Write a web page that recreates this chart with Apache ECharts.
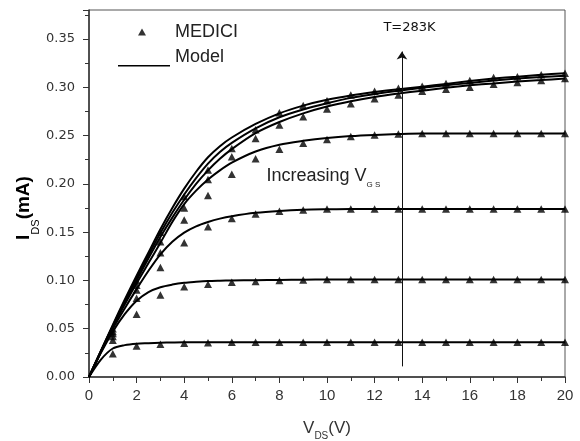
<!DOCTYPE html>
<html>
<head>
<meta charset="utf-8">
<script src="https://cdn.jsdelivr.net/npm/echarts@6/dist/echarts.min.js"></script>
<style>
  html, body { margin: 0; padding: 0; background: #fff; }
  #chart { width: 580px; height: 441px; }
</style>
</head>
<body>
<div id="chart"></div>
<script>
// Drain voltage grid of the model curves (V)
const vdsModel = [0, 0.5, 1, 1.5, 2, 2.5, 3, 3.5, 4, 4.5, 5, 5.5, 6, 7, 8, 9, 10, 11, 12, 13, 14, 15, 16, 17, 18, 19, 20];

// Model drain current (mA), one array per gate voltage, lowest V_GS first
const modelA = [0, 0.018, 0.0295, 0.033, 0.0345, 0.035, 0.0355, 0.0358, 0.036, 0.036, 0.036, 0.036, 0.036, 0.036, 0.036, 0.036, 0.036, 0.036, 0.036, 0.036, 0.036, 0.036, 0.036, 0.036, 0.036, 0.036, 0.036];
const modelB = [0, 0.025, 0.047, 0.065, 0.079, 0.088, 0.093, 0.0957, 0.0975, 0.0985, 0.0993, 0.0997, 0.1, 0.1003, 0.1005, 0.1008, 0.101, 0.101, 0.101, 0.101, 0.101, 0.101, 0.101, 0.101, 0.101, 0.101, 0.101];
const modelC = [0, 0.026, 0.05, 0.071, 0.091, 0.11, 0.127, 0.14, 0.1495, 0.156, 0.1605, 0.164, 0.1665, 0.17, 0.172, 0.1732, 0.1737, 0.174, 0.174, 0.174, 0.174, 0.174, 0.174, 0.174, 0.174, 0.174, 0.174];
const modelD = [0, 0.027, 0.052, 0.075, 0.097, 0.118, 0.139, 0.1605, 0.179, 0.193, 0.2045, 0.214, 0.222, 0.2335, 0.2405, 0.2445, 0.2475, 0.2495, 0.2507, 0.2515, 0.252, 0.252, 0.252, 0.252, 0.252, 0.252, 0.252];
const modelE = [0, 0.026, 0.052, 0.077, 0.1, 0.123, 0.145, 0.165, 0.1835, 0.2, 0.214, 0.226, 0.236, 0.2525, 0.264, 0.273, 0.28, 0.2855, 0.29, 0.2935, 0.2965, 0.2995, 0.302, 0.304, 0.306, 0.3075, 0.309];
const modelF = [0, 0.0265, 0.053, 0.0785, 0.1025, 0.126, 0.149, 0.17, 0.189, 0.206, 0.221, 0.233, 0.2425, 0.2575, 0.269, 0.277, 0.2835, 0.289, 0.293, 0.2965, 0.2995, 0.302, 0.3045, 0.307, 0.309, 0.3105, 0.312];
const modelG = [0, 0.027, 0.054, 0.08, 0.105, 0.129, 0.153, 0.175, 0.195, 0.2125, 0.2275, 0.239, 0.248, 0.262, 0.273, 0.281, 0.287, 0.2915, 0.295, 0.298, 0.3005, 0.3035, 0.3065, 0.309, 0.311, 0.313, 0.3145];

// MEDICI simulation points (V, mA)
const vdsSim = [1, 2, 3, 4, 5, 6, 7, 8, 9, 10, 11, 12, 13, 14, 15, 16, 17, 18, 19, 20];
const simA = [0.024, 0.032, 0.034, 0.035, 0.0355, 0.036, 0.036, 0.036, 0.036, 0.036, 0.036, 0.036, 0.036, 0.036, 0.036, 0.036, 0.036, 0.036, 0.036, 0.036];
const simB = [0.038, 0.065, 0.085, 0.0935, 0.096, 0.098, 0.099, 0.1, 0.1005, 0.101, 0.101, 0.101, 0.101, 0.101, 0.101, 0.101, 0.101, 0.101, 0.101, 0.101];
const simC = [0.042, 0.0815, 0.1135, 0.139, 0.1556, 0.164, 0.1687, 0.1715, 0.173, 0.174, 0.174, 0.174, 0.174, 0.174, 0.174, 0.174, 0.174, 0.174, 0.174, 0.174];
const simD = [0.045, 0.09, 0.1287, 0.1625, 0.188, 0.21, 0.226, 0.2357, 0.242, 0.246, 0.249, 0.2505, 0.2515, 0.252, 0.252, 0.252, 0.252, 0.252, 0.252, 0.252];
const simE = [0.047, 0.095, 0.14, 0.175, 0.2046, 0.228, 0.247, 0.261, 0.2695, 0.2775, 0.283, 0.288, 0.292, 0.296, 0.298, 0.3, 0.303, 0.305, 0.307, 0.309];
const simG = [0.05, 0.1, 0.15, 0.187, 0.2143, 0.2367, 0.256, 0.2735, 0.281, 0.286, 0.292, 0.296, 0.299, 0.301, 0.304, 0.307, 0.31, 0.311, 0.313, 0.3145];

// Arrow marking the direction of increasing gate voltage: [V_DS, I_start, I_end]
const arrowVds = 13.15;
const arrowFrom = 0.011;
const arrowTo = 0.337;

const modelCurves = [modelA, modelB, modelC, modelD, modelE, modelF, modelG];
const simCurves = [simA, simB, simC, simD, simE, simG];

const chart = echarts.init(document.getElementById('chart'), null, { renderer: 'canvas' });

const series = [];
modelCurves.forEach((curve, k) => {
  const s = {
    type: 'line',
    name: 'Model',
    data: vdsModel.map((v, i) => [v, curve[i]]),
    symbol: 'none',
    showSymbol: false,
    smooth: 0.3,
    clip: true,
    z: 2,
    silent: true,
    emphasis: { disabled: true },
    itemStyle: { color: '#000' },
    lineStyle: { color: '#000', width: 2 }
  };
  if (k === 0) {
    s.markLine = {
      silent: true,
      animation: false,
      symbol: ['none', 'arrow'],
      symbolSize: 8,
      label: { show: false },
      emphasis: { disabled: true },
      lineStyle: { color: '#111', width: 1, type: 'solid' },
      data: [[{ coord: [arrowVds, arrowFrom] }, { coord: [arrowVds, arrowTo] }]]
    };
  }
  series.push(s);
});
simCurves.forEach(curve => {
  series.push({
    type: 'scatter',
    name: 'MEDICI',
    data: vdsSim.map((v, i) => [v, curve[i]]),
    symbol: 'triangle',
    symbolSize: [8, 7.5],
    z: 3,
    silent: true,
    emphasis: { disabled: true },
    itemStyle: { color: '#000' }
  });
});

const sansFont = '"Liberation Sans", Arial, sans-serif';

chart.setOption({
  animation: false,
  backgroundColor: '#fff',
  grid: {
    left: 89, right: 15, top: 10, bottom: 64,
    show: true, borderColor: '#555', borderWidth: 1, backgroundColor: 'transparent'
  },
  legend: {
    left: 113, top: 18, orient: 'vertical',
    itemWidth: 52, itemHeight: 18, itemGap: 7.5,
    selectedMode: false,
    itemStyle: { borderWidth: 0 },
    textStyle: { fontFamily: sansFont, fontSize: 18, color: '#222', lineHeight: 18 },
    data: [
      { name: 'MEDICI', icon: 'path://M0,0L0,0M52,18L52,18M20,12.5L28,12.5L24,5.5Z' },
      { name: 'Model', icon: 'path://M0,0L0,0M0,16.5L52,16.5L52,18L0,18Z' }
    ]
  },
  xAxis: {
    type: 'value', min: 0, max: 20, interval: 2,
    axisLine: { onZero: false, lineStyle: { color: '#333', width: 1.5 } },
    axisTick: { inside: false, length: 6, lineStyle: { color: '#333' } },
    minorTick: { show: true, splitNumber: 2, length: 4, lineStyle: { color: '#333' } },
    splitLine: { show: false },
    axisLabel: { fontFamily: sansFont, fontSize: 15, color: '#333', margin: 11 }
  },
  yAxis: {
    type: 'value', min: 0, max: 0.38, interval: 0.05,
    axisLine: { onZero: false, lineStyle: { color: '#333', width: 1.5 } },
    axisTick: { inside: false, length: 6, lineStyle: { color: '#333' } },
    minorTick: { show: true, splitNumber: 2, length: 4, lineStyle: { color: '#333' } },
    splitLine: { show: false },
    axisLabel: {
      fontFamily: '"DejaVu Sans", sans-serif', fontSize: 13, color: '#333', margin: 14,
      showMaxLabel: false,
      formatter: v => (Math.abs(v / 0.05 - Math.round(v / 0.05)) < 1e-6 ? v.toFixed(2) : '')
    }
  },
  graphic: [
    {
      type: 'text', x: 409.5, y: 27.5, silent: true,
      style: { text: 'T=283K', font: '13px "DejaVu Sans", sans-serif', fill: '#111', align: 'center', verticalAlign: 'middle' }
    },
    {
      type: 'text', x: 266.5, y: 167.5, silent: true,
      style: {
        text: '{m|Increasing V}{s|G S}', align: 'left', verticalAlign: 'top',
        rich: {
          m: { fontFamily: sansFont, fontSize: 18, lineHeight: 18, verticalAlign: 'top', fill: '#222' },
          s: { fontFamily: sansFont, fontSize: 8, lineHeight: 34, fill: '#222' }
        }
      }
    },
    {
      type: 'text', x: 327, y: 419.5, silent: true,
      style: {
        text: '{m|V}{s|DS}{m|(V)}', align: 'center', verticalAlign: 'top',
        rich: {
          m: { fontFamily: sansFont, fontSize: 17, lineHeight: 16, verticalAlign: 'top', fill: '#333' },
          s: { fontFamily: sansFont, fontSize: 10, lineHeight: 34, fill: '#333' }
        }
      }
    },
    {
      type: 'text', x: 35.5, y: 208, rotation: Math.PI / 2, silent: true,
      style: {
        text: '{m|I}{s|DS}{m|(mA)}', align: 'center', verticalAlign: 'middle',
        rich: {
          m: { fontFamily: sansFont, fontSize: 19, fontWeight: 'bold', lineHeight: 19, verticalAlign: 'top', fill: '#000' },
          s: { fontFamily: sansFont, fontSize: 11, lineHeight: 43, fill: '#000' }
        }
      }
    }
  ],
  series: series
});
</script>
</body>
</html>
